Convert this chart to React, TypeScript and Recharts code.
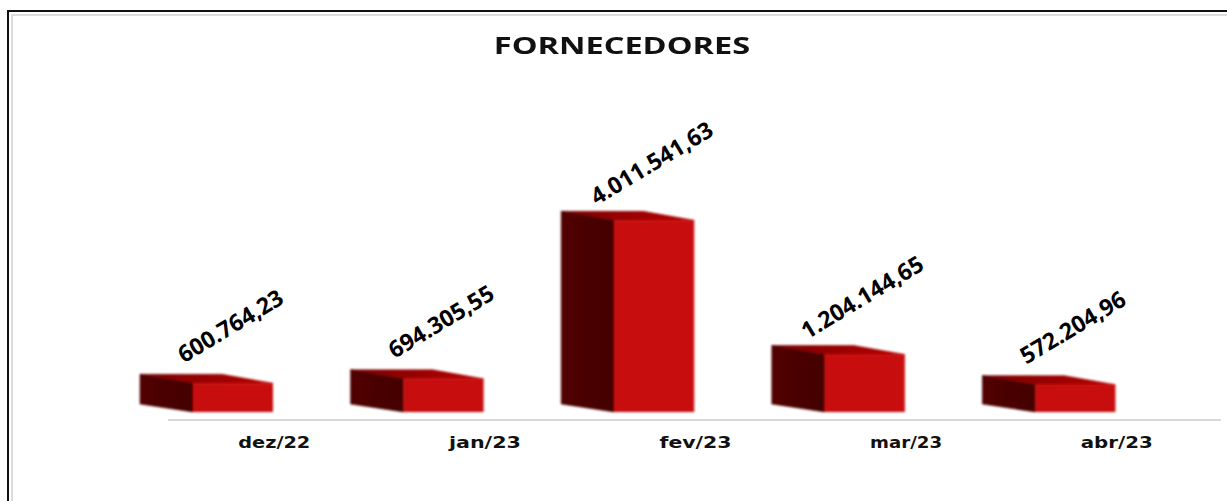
import React from 'react';
import { BarChart, Bar, XAxis, YAxis, LabelList } from 'recharts';

const months = ['dez/22', 'jan/23', 'fev/23', 'mar/23', 'abr/23'];
const totals = [600764.23, 694305.55, 4011541.63, 1204144.65, 572204.96];

const data = months.map((month, i) => ({ month, total: totals[i] }));

const formatValue = (v: number) =>
  v.toLocaleString('pt-BR', { minimumFractionDigits: 2, maximumFractionDigits: 2 });

// the fake 3D block: front face ends at the band centre, side goes back to the left
function Block3D({ x, y, width, height }: any) {
  const fx = x - width / 2;
  const bottom = y + height;
  const side = `${fx - 53},${y - 9} ${fx},${y} ${fx},${bottom} ${fx - 53},${bottom - 8}`;
  const top = `${fx - 53},${y - 9} ${fx + 29},${y - 9} ${fx + width},${y} ${fx},${y}`;
  return (
    <g filter="url(#soft)">
      <polygon points={top} fill="url(#topShade)" stroke="url(#topShade)" strokeWidth={0.6} />
      <polygon points={side} fill="url(#sideShade)" stroke="#4a0000" strokeWidth={0.6} />
      <rect x={fx} y={y} width={width} height={height} fill="#c70808" />
    </g>
  );
}

function RotatedLabel({ x, y, value }: any) {
  const cx = x - 3;
  const cy = y - 58;
  return (
    <text
      x={cx}
      y={cy}
      textAnchor="middle"
      dominantBaseline="central"
      transform={`rotate(-31 ${cx} ${cy})`}
      fontFamily="'Open Sans', sans-serif"
      fontWeight={700}
      fontSize={23}
      fill="#000"
    >
      {formatValue(value)}
    </text>
  );
}

// source picture is stretched sideways, so the tick text is too
function MonthTick({ x, y, payload }: any) {
  return (
    <text
      x={x + 1}
      y={y}
      dy="0.71em"
      textAnchor="middle"
      textLength={72}
      lengthAdjust="spacingAndGlyphs"
      fontFamily="'DejaVu Sans', sans-serif"
      fontWeight={700}
      fontSize={15}
      fill="#111"
    >
      {payload.value}
    </text>
  );
}

export default function App() {
  return (
    <div style={{ position: 'fixed', left: 0, top: 0, width: 1227, height: 501, overflow: 'hidden', background: '#fff' }}>
      <div style={{ position: 'absolute', left: 7, top: 10, width: 1400, height: 700, borderLeft: '2px solid #111', borderTop: '2px solid #111' }} />
      <div style={{ position: 'absolute', left: 11, top: 14, width: 1400, height: 700, borderLeft: '2px solid #dcdcdc', borderTop: '2px solid #dcdcdc' }} />
      <div
        style={{
          position: 'absolute',
          left: 0,
          top: 30,
          width: 1244,
          textAlign: 'center',
          fontFamily: "'Open Sans', sans-serif",
          fontWeight: 700,
          fontSize: 24,
          lineHeight: '30px',
          color: '#111',
          transform: 'scaleX(1.355)',
        }}
      >
        FORNECEDORES
      </div>
      <div style={{ position: 'absolute', left: 0, top: 0 }}>
        <BarChart
          width={1227}
          height={501}
          data={data}
          margin={{ top: 197, right: 6, bottom: 51, left: 168 }}
        >
          <defs>
            <linearGradient id="sideShade" x1="0" y1="0" x2="1" y2="0">
              <stop offset="0%" stopColor="#520000" />
              <stop offset="100%" stopColor="#430000" />
            </linearGradient>
            <linearGradient id="topShade" x1="0" y1="0" x2="1" y2="0">
              <stop offset="0%" stopColor="#7a0202" />
              <stop offset="100%" stopColor="#b80707" />
            </linearGradient>
            <filter id="soft" x="-10%" y="-10%" width="120%" height="120%">
              <feGaussianBlur stdDeviation="0.8" />
            </filter>
          </defs>
          <YAxis hide domain={[-167200, 4500000]} />
          <XAxis
            dataKey="month"
            tickLine={false}
            axisLine={{ stroke: '#d9d9d9', strokeWidth: 2 }}
            tickMargin={11}
            tick={<MonthTick />}
          />
          <Bar dataKey="total" barSize={80} isAnimationActive={false} shape={<Block3D />}>
            <LabelList dataKey="total" content={<RotatedLabel />} />
          </Bar>
        </BarChart>
      </div>
    </div>
  );
}
